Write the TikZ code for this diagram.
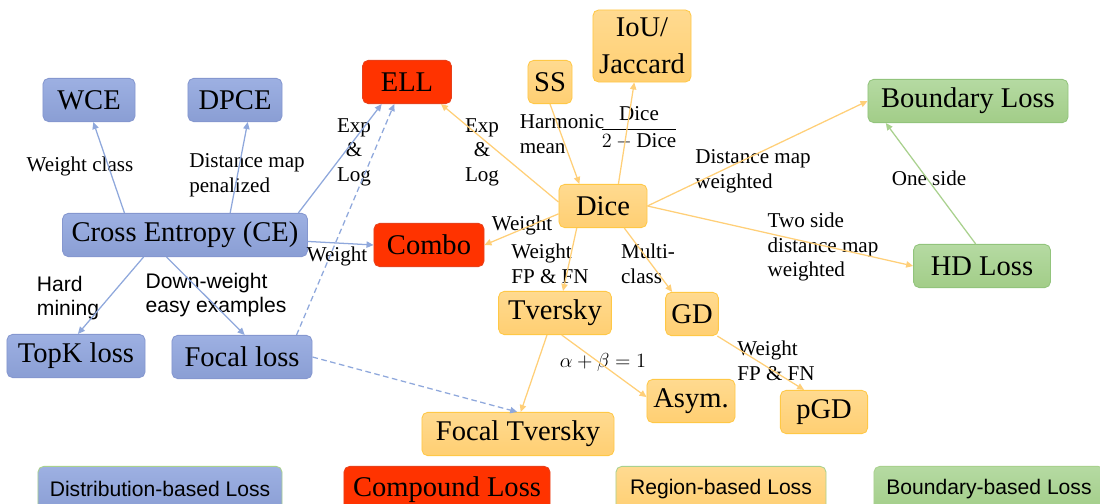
\documentclass[tikz,border=0pt]{standalone}
\usepackage{amsmath}
\usepackage{fontspec}
\setmainfont{Liberation Serif}
\setsansfont{Liberation Sans}
\usetikzlibrary{arrows.meta}

\definecolor{bluetop}{HTML}{9DB0E2}
\definecolor{bluebot}{HTML}{8A9ED4}
\definecolor{bluedraw}{HTML}{8597CF}
\definecolor{blueline}{HTML}{8FA8DC}
\definecolor{redfill}{HTML}{FF3300}
\definecolor{reddraw}{HTML}{E8401A}
\definecolor{orangetop}{HTML}{FFDA90}
\definecolor{orangebot}{HTML}{FFCF72}
\definecolor{orangedraw}{HTML}{FFC846}
\definecolor{orangeline}{HTML}{FFCF78}
\definecolor{greentop}{HTML}{B5DAA2}
\definecolor{greenbot}{HTML}{A2CD88}
\definecolor{greendraw}{HTML}{92C47C}
\definecolor{greenline}{HTML}{A9D18E}
\definecolor{legenddraw}{HTML}{A9D18E}

\begin{document}
\begin{tikzpicture}[x=0.025cm,y=-0.025cm]
\tikzset{
  lossnode/.style={rounded corners=4pt,line width=0.6pt,minimum height=1.08cm,inner sep=2pt,font=\fontsize{20.3}{22}\selectfont},
  distnode/.style={lossnode,draw=bluedraw,top color=bluetop,bottom color=bluebot},
  compnode/.style={lossnode,draw=reddraw,fill=redfill},
  regnode/.style={lossnode,draw=orangedraw,top color=orangetop,bottom color=orangebot},
  bndnode/.style={lossnode,draw=greendraw,top color=greentop,bottom color=greenbot},
  legendnode/.style={rounded corners=4pt,line width=0.6pt,draw=legenddraw,minimum height=1.15cm,anchor=north,font=\sffamily\fontsize{15}{17}\selectfont},
  edgelabel/.style={font=\fontsize{15}{17.5}\selectfont,inner sep=0pt,align=left},
  sanslabel/.style={font=\sffamily\fontsize{15}{17}\selectfont,inner sep=0pt,align=left},
  tip/.style={-{Triangle[length=5pt,width=4.5pt]},line width=0.9pt},
  distedge/.style={tip,draw=blueline},
  regedge/.style={tip,draw=orangeline},
  bndedge/.style={tip,draw=greenline}
}
\useasboundingbox (0,0) rectangle (1100,504);
\node[distnode,minimum width=2.3cm] (n_WCE) at (89,100) {WCE};
\node[distnode,minimum width=2.35cm] (n_DPCE) at (235,100) {DPCE};
\node[distnode,minimum width=6.12cm] (n_CE) at (185,235) {Cross Entropy (CE)};
\node[distnode,minimum width=3.45cm] (n_TopK) at (76,356) {TopK loss};
\node[distnode,minimum width=3.5cm] (n_Focal) at (242,357) {Focal loss};
\node[compnode,minimum width=2.22cm] (n_ELL) at (407,82) {ELL};
\node[compnode,minimum width=2.75cm] (n_Combo) at (429,245) {Combo};
\node[regnode,minimum width=1.1cm] (n_SS) at (550,82) {SS};
\node[regnode,minimum width=2.45cm,minimum height=1.8cm,align=center,font=\fontsize{20.3}{26}\selectfont] (n_IoU) at (642,46) {IoU/\\Jaccard};
\node[regnode,minimum width=2.2cm] (n_Dice) at (603,206) {Dice};
\node[regnode,minimum width=2.82cm] (n_Tversky) at (555,313) {Tversky};
\node[regnode,minimum width=1.32cm] (n_GD) at (692,314) {GD};
\node[regnode,minimum width=2.2cm] (n_Asym) at (691,401) {Asym.};
\node[regnode,minimum width=2.18cm] (n_pGD) at (824,412) {pGD};
\node[regnode,minimum width=4.8cm] (n_FT) at (518,434) {Focal Tversky};
\node[bndnode,minimum width=5.0cm] (n_Boundary) at (968,101) {Boundary Loss};
\node[bndnode,minimum width=3.42cm] (n_HD) at (982,266) {HD Loss};
\node[edgelabel] (l_wclass) at (80,166) {Weight class};
\node[edgelabel] (l_dpen) at (247,175) {Distance map\\penalized};
\node[edgelabel,align=center] (l_explogA) at (354,152) {Exp\\\&\\Log};
\node[edgelabel] (l_wcombo) at (337,256) {Weight};
\node[sanslabel] (l_hard) at (68,298) {Hard\\mining};
\node[sanslabel] (l_down) at (216,295) {Down-weight\\easy examples};
\node[edgelabel,align=center] (l_explogB) at (482,152) {Exp\\\&\\Log};
\node[edgelabel] (l_harm) at (562,134) {Harmonic\\mean};
\node[edgelabel] (l_frac) at (639,128) {$\dfrac{\text{Dice}}{2-\text{Dice}}$};
\node[edgelabel] (l_wdice) at (522,225) {Weight};
\node[edgelabel] (l_wfp) at (550,264) {Weight\\FP \& FN};
\node[edgelabel] (l_multi) at (648,264) {Multi-\\class};
\node[edgelabel] (l_dmw) at (753,171) {Distance map\\weighted};
\node[edgelabel] (l_two) at (823,247) {Two side\\distance map\\weighted};
\node[edgelabel] (l_one) at (929,178) {One side};
\node[edgelabel] (l_ab) at (603,362) {$\alpha+\beta=1$};
\node[edgelabel] (l_wfp2) at (776,361) {Weight\\FP \& FN};
\draw[distedge] (n_CE.160) -- (n_WCE.281);
\draw[distedge] (n_CE.26) -- (n_DPCE.300);
\draw[distedge] (n_CE.11) -- (n_ELL.221);
\draw[distedge] (n_CE.357) -- (n_Combo.west);
\draw[distedge] (n_CE.208) -- (n_TopK.85);
\draw[distedge] (n_CE.230) -- (n_Focal.83);
\draw[distedge,dash pattern=on 4pt off 2.5pt] (n_Focal.22) -- (n_ELL.240);
\draw[distedge,dash pattern=on 4pt off 2.5pt] (n_Focal.east) -- (n_FT.92);
\draw[regedge] (n_Dice.175) -- (n_ELL.327);
\draw[regedge] (n_Dice.190) -- (n_Combo.east);
\draw[regedge] (n_SS.south) -- (n_Dice.137);
\draw[regedge] (n_Dice.55) -- (n_IoU.258);
\draw[regedge] (n_Dice.east) -- (n_Boundary.west);
\draw[regedge] (n_Dice.east) -- (n_HD.west);
\draw[regedge] (n_Dice.220) -- (n_Tversky.70);
\draw[regedge] (n_Dice.314) -- (n_GD.132);
\draw[regedge] (n_Tversky.250) -- (n_FT.83);
\draw[regedge] (n_Tversky.287) -- (n_Asym.175);
\draw[regedge] (n_GD.319) -- (n_pGD.132);
\draw[bndedge] (n_HD.106) -- (n_Boundary.195);
\node[legendnode,minimum width=6.1cm,top color=bluetop,bottom color=bluebot] (k_dist) at (160,466) {Distribution-based Loss};
\node[legendnode,minimum width=5.15cm,fill=redfill,draw=reddraw,font=\fontsize{20.3}{22}\selectfont] (k_comp) at (447,466) {Compound Loss};
\node[legendnode,minimum width=5.25cm,top color=orangetop,bottom color=orangebot] (k_reg) at (721,466) {Region-based Loss};
\node[legendnode,minimum width=5.75cm,top color=greentop,bottom color=greenbot] (k_bnd) at (989,466) {Boundary-based Loss};
\end{tikzpicture}
\end{document}
